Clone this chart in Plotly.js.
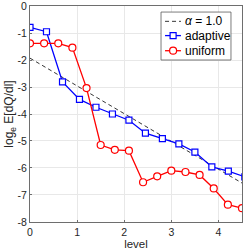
<!DOCTYPE html>
<html>
<head>
<meta charset="utf-8">
<script src="https://cdn.plot.ly/plotly-3.0.1.min.js"></script>
<style>html,body{margin:0;padding:0;background:#fff;}#chart{width:249px;height:251px;}</style>
</head>
<body>
<div id="chart"></div>
<script>
const refX = [0, 4.5];
const refY = [-1.93, -6.56];
const adaptiveX = [0, 0.35, 0.69, 1.05, 1.40, 1.75, 2.10, 2.45, 2.81, 3.16, 3.50, 3.86, 4.21, 4.56];
const adaptiveY = [-0.79, -0.95, -2.81, -3.46, -3.75, -4.0, -4.23, -4.71, -4.91, -5.11, -5.41, -5.96, -6.12, -6.33];
const uniformX = [0, 0.3, 0.6, 0.9, 1.2, 1.5, 1.8, 2.1, 2.4, 2.7, 3.0, 3.3, 3.6, 3.9, 4.2, 4.5];
const uniformY = [-1.38, -1.38, -1.38, -1.54, -3.04, -5.15, -5.33, -5.36, -6.53, -6.31, -6.10, -6.15, -6.26, -6.76, -7.36, -7.49];
const xTicks = [0, 1, 2, 3, 4];
const yTicks = [0, -1, -2, -3, -4, -5, -6, -7, -8];
const yRange = [-8.004, 0.004];
const legendNames = ['<i>α</i> = 1.0', 'adaptive', 'uniform'];

const FONT = 'Liberation Sans, Arial, Helvetica, sans-serif';
const TICKFONT = {family: FONT, size: 10.5, color: '#262626'};
const refStyle = {color: '#000000', width: 0.8, dash: '4px,3px'};
const adaptStyle = {color: '#0000ff', width: 1.3};
const uniStyle = {color: '#ff0000', width: 1.3};

const traces = [
  {x: refX, y: refY, mode: 'lines', name: legendNames[0], line: refStyle},
  {x: adaptiveX, y: adaptiveY, mode: 'lines+markers', name: legendNames[1], line: adaptStyle,
   marker: {symbol: 'square', size: 6, color: '#ffffff', line: {color: '#0000ff', width: 1.2}}},
  {x: uniformX, y: uniformY, mode: 'lines+markers', name: legendNames[2], line: uniStyle,
   marker: {symbol: 'circle', size: 7, color: '#ffffff', line: {color: '#ff0000', width: 1.2}}}
];

const axisCommon = {
  showgrid: true, gridcolor: '#e8e8e8', gridwidth: 1,
  showline: true, linecolor: '#6e6e6e', linewidth: 1, mirror: true,
  ticks: 'inside', ticklen: 2, tickcolor: '#6e6e6e',
  tickfont: TICKFONT,
  zeroline: false
};

// custom compact legend (paper coordinates)
const lgX0 = 0.618, lgX1 = 0.948, lgY0 = 0.75, lgY1 = 0.972;
const rowY = [0.929, 0.863, 0.793];
const sampX0 = 0.637, sampX1 = 0.712, sampXC = 0.675, textX = 0.722;

const shapes = [
  {type: 'rect', xref: 'paper', yref: 'paper', x0: lgX0, x1: lgX1, y0: lgY0, y1: lgY1,
   fillcolor: '#ffffff', line: {color: '#595959', width: 0.8}, layer: 'above'},
  {type: 'line', xref: 'paper', yref: 'paper', x0: sampX0, x1: sampX1, y0: rowY[0], y1: rowY[0], line: refStyle, layer: 'above'},
  {type: 'line', xref: 'paper', yref: 'paper', x0: sampX0, x1: sampX1, y0: rowY[1], y1: rowY[1], line: adaptStyle, layer: 'above'},
  {type: 'rect', xref: 'paper', yref: 'paper', xsizemode: 'pixel', ysizemode: 'pixel',
   xanchor: sampXC, yanchor: rowY[1], x0: -3, x1: 3, y0: -3, y1: 3,
   fillcolor: '#ffffff', line: {color: '#0000ff', width: 1.2}, layer: 'above'},
  {type: 'line', xref: 'paper', yref: 'paper', x0: sampX0, x1: sampX1, y0: rowY[2], y1: rowY[2], line: uniStyle, layer: 'above'},
  {type: 'circle', xref: 'paper', yref: 'paper', xsizemode: 'pixel', ysizemode: 'pixel',
   xanchor: sampXC, yanchor: rowY[2], x0: -3.5, x1: 3.5, y0: -3.5, y1: 3.5,
   fillcolor: '#ffffff', line: {color: '#ff0000', width: 1.2}, layer: 'above'}
];

const annotations = legendNames.map((t, i) => ({
  xref: 'paper', yref: 'paper', x: textX, y: rowY[i], xanchor: 'left', yanchor: 'middle',
  text: t, showarrow: false, font: {family: FONT, size: 12, color: '#000000'}
}));
// top y tick label (Plotly hides it at the div edge): placed at the fraction of the y range where yTicks[0] falls
annotations.push({
  xref: 'paper', yref: 'paper', x: 0,
  y: (yTicks[0] - yRange[0]) / (yRange[1] - yRange[0]),
  xanchor: 'right', yanchor: 'middle',
  xshift: -2, text: String(yTicks[0]), showarrow: false, borderpad: 0, font: TICKFONT
});

const layout = {
  width: 249, height: 251,
  margin: {l: 30, r: 7, t: 6, b: 29},
  paper_bgcolor: '#ffffff', plot_bgcolor: '#ffffff',
  showlegend: false,
  xaxis: Object.assign({}, axisCommon, {
    range: [0, 4.5], tickmode: 'array', tickvals: xTicks, ticktext: xTicks.map(String),
    title: {text: 'level', font: {family: FONT, size: 11.5, color: '#262626'}, standoff: 2}
  }),
  yaxis: Object.assign({}, axisCommon, {
    range: yRange, tickmode: 'array', tickvals: yTicks.slice(1), ticktext: yTicks.slice(1).map(String),
    title: {text: 'log<sub>e</sub> E[dQ/dl]', font: {family: FONT, size: 12, color: '#262626'}, standoff: 0}
  }),
  shapes: shapes,
  annotations: annotations
};

Plotly.newPlot('chart', traces, layout, {staticPlot: true, displayModeBar: false});
</script>
</body>
</html>
